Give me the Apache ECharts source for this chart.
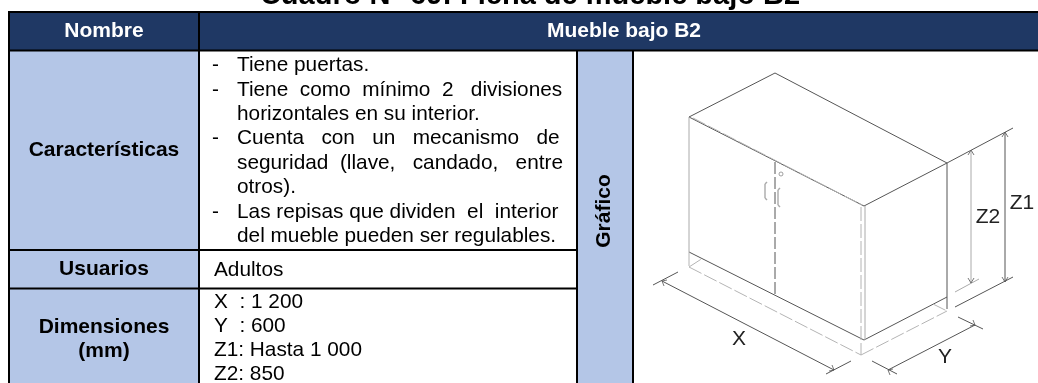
<!DOCTYPE html>
<html><head><meta charset="utf-8">
<style>html,body{margin:0;padding:0;background:#fff}#c{width:1038px;height:383px}</style>
<script src="https://cdn.jsdelivr.net/npm/echarts@6/dist/echarts.min.js"></script>
</head><body><div id="c"></div>
<script>
const titleText = 'Cuadro N° 69: Ficha de mueble bajo B2';
const headerCells = ['Nombre', 'Mueble bajo B2'];
const rowLabels = ['Características', 'Usuarios', 'Dimensiones', '(mm)', 'Gráfico'];
const featureLines = [
  ['-', 'Tiene puertas.', false],
  ['-', 'Tiene como mínimo 2 divisiones', true],
  ['', 'horizontales en su interior.', false],
  ['-', 'Cuenta con un mecanismo de', true],
  ['', 'seguridad (llave, candado, entre', true],
  ['', 'otros).', false],
  ['-', 'Las repisas que dividen el interior', true],
  ['', 'del mueble pueden ser regulables.', false]
];
const usersText = 'Adultos';
const dimensionLines = ['X  : 1 200', 'Y  : 600', 'Z1: Hasta 1 000', 'Z2: 850'];
const drawingLabels = [['X', 739, 339], ['Y', 945, 357], ['Z1', 1022, 203], ['Z2', 988, 217]];

// drawing strokes, in screen-like units of the hidden full-canvas axes
const darkLines = [
  [775,73,689,117],[775,73,947,163],[689,117,864,206],[864,206,947,163],
  [689,252,864,340],[864,340,947,297],[947,163,947,297],[1005,132,1005,282],
  [947,163,1013,128],[955,307,1013,277],[662,281,834,370],[653,285,678,272],
  [826,374,851,361],[888,370,975,325],[872,361,897,374],[958,317,983,329]
];
const grayLines = [[689,117,689,252],[865,206,865,340],[971,150,971,283],[955,292,979,279]];
const arrowLines = [
  [1005,132,1002,137],[1005,132,1008,137],[971,150,968,155],[971,150,974,155],
  [971,283,968,278],[971,283,974,278],[1005,282,1002,277],[1005,282,1008,277],
  [662,281,667,280],[662,281,664,286],[834,370,829,371],[834,370,832,365],
  [888,370,893,369],[888,370,890,375],[975,325,970,326],[975,325,973,320]
];
const dashDark = [[775,162,775,297],[947,297,947,311]];
const dashLight = [
  [693,118,862,205],[689,252,689,267],[689,267,861,355],[861,355,947,311],
  [689,267,703,258],[933,304,947,311],[861,207,861,355]
];
const handleLines = [
  [767,182,765,184],[765,184,765,198],[765,198,767,200],
  [780,188,778,190],[778,190,778,205],[778,205,780,207]
];

const colors = { navy:'#1f3864', blue:'#b4c6e7', ink:'#000', dark:'#555', gray:'#aaa', light:'#b4b4b4' };
const F = 'Liberation Sans, Arial, sans-serif';
const BODY = 20.8, BOLD = 21;

const L = { left:9, c1:199, c2:577, c3:633, right:1038, top:12, head:50.5, r1:250, r2:288.5, bottom:383 };

const ctx = document.createElement('canvas').getContext('2d');
function justify(str, target, size){
  ctx.font = size + 'px ' + F;
  const w = ctx.measureText(str).width, sp = ctx.measureText(' ').width;
  const words = str.split(' '), gaps = words.length - 1;
  if (gaps < 1) return str;
  let extra = Math.max(0, Math.round((target - w) / sp)), out = words[0];
  for (let i = 1; i < words.length; i++){
    const add = Math.floor(extra / (gaps - i + 1));
    extra -= add;
    out += ' '.repeat(1 + add) + words[i];
  }
  return out;
}

const g = [];
const rect = (x0,y0,x1,y1,fill) => g.push({type:'rect',silent:true,shape:{x:x0,y:y0,width:x1-x0,height:y1-y0},style:{fill}});
const text = (s,x,y,o={}) => g.push({type:'text',silent:true,x,y,rotation:o.rot||0,style:{
  text:s,x:0,y:0,fill:o.fill||colors.ink,font:(o.bold?'bold ':'')+(o.size||BODY)+'px '+F,
  align:o.align||'left',verticalAlign:o.va||'middle'}});
const hl = (x0,x1,y) => rect(x0,y-1,x1,y+1,colors.ink);
const vl = (x,y0,y1) => rect(x-1,y0,x+1,y1,colors.ink);

rect(L.left,L.top,L.right,L.head,colors.navy);
rect(L.left,L.head,L.c1,L.bottom,colors.blue);
rect(L.c2,L.head,L.c3,L.bottom,colors.blue);
hl(L.left-1,L.right,L.top); hl(L.left-1,L.right,L.head);
hl(L.left,L.c2,L.r1); hl(L.left,L.c2,L.r2);
vl(L.left,L.top,L.bottom); vl(L.c1,L.top,L.bottom); vl(L.c2,L.head,L.bottom); vl(L.c3,L.head,L.bottom);

text(titleText,530,-18.5,{bold:true,size:29,align:'center',va:'top'});
text(headerCells[0],(L.left+L.c1)/2,31.5,{bold:true,size:BOLD,fill:'#fff',align:'center'});
text(headerCells[1],624,31.5,{bold:true,size:BOLD,fill:'#fff',align:'center'});
text(rowLabels[0],(L.left+L.c1)/2,150,{bold:true,size:BOLD,align:'center'});
text(rowLabels[1],(L.left+L.c1)/2,269,{bold:true,size:BOLD,align:'center'});
text(rowLabels[2],(L.left+L.c1)/2,327,{bold:true,size:BOLD,align:'center'});
text(rowLabels[3],(L.left+L.c1)/2,351,{bold:true,size:BOLD,align:'center'});
text(rowLabels[4],604,211,{bold:true,size:BOLD,align:'center',rot:Math.PI/2});

featureLines.forEach((ln,i)=>{
  const y = 65.5 + i*24.4;
  if (ln[0]) text(ln[0],212,y);
  text(ln[2]?justify(ln[1],324,BODY):ln[1],237,y);
});
text(usersText,214,270);
dimensionLines.forEach((s,i)=>text(s,214,302+i*24.1));
drawingLabels.forEach(d=>text(d[0],d[1],d[2],{size:21,align:'center',fill:'#222'}));

const segSeries = (name,data,color,width,dash) => ({
  type:'custom',name,coordinateSystem:'cartesian2d',silent:true,clip:false,z:5,data,encode:{x:[0,2],y:[1,3]},
  renderItem:(p,api)=>{
    const a=api.coord([api.value(0),api.value(1)]),b=api.coord([api.value(2),api.value(3)]);
    return {type:'line',shape:{x1:a[0],y1:a[1],x2:b[0],y2:b[1]},style:{stroke:color,lineWidth:width,lineDash:dash||null,fill:null}};
  }
});

const chart = echarts.init(document.getElementById('c'),null,{renderer:'canvas'});
chart.setOption({
  animation:false,
  grid:{left:0,right:0,top:0,bottom:0},
  xAxis:{type:'value',min:0,max:1038,show:false},
  yAxis:{type:'value',min:0,max:383,inverse:true,show:false},
  graphic:{elements:g},
  series:[
    segSeries('dark',darkLines,colors.dark,1),
    segSeries('gray',grayLines,colors.gray,1),
    segSeries('arrows',arrowLines,colors.dark,0.8),
    segSeries('dashDark',dashDark,colors.dark,1,[12,3]),
    segSeries('dashLight',dashLight,colors.light,1,[14,3]),
    segSeries('handles',handleLines,colors.gray,1.4),
    {type:'scatter',silent:true,data:[[781,174]],symbol:'circle',symbolSize:4,itemStyle:{color:'#fff',borderColor:'#888',borderWidth:1},z:6}
  ]
});
</script></body></html>
